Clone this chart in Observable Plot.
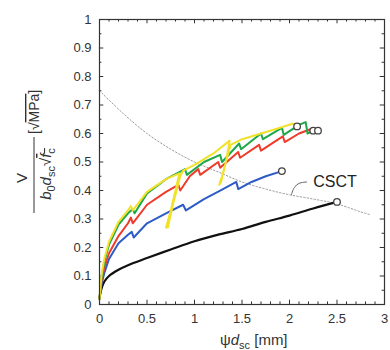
<!DOCTYPE html>
<html><head><meta charset="utf-8">
<script src="https://cdn.jsdelivr.net/npm/d3@7"></script>
<script src="https://cdn.jsdelivr.net/npm/@observablehq/plot@0.6"></script>
<style>body{margin:0;background:#fff} #chart svg{display:block}</style>
</head><body><div id="chart"></div>
<script>
// ---- tick values / labels ----
const yTicks = [0,0.1,0.2,0.3,0.4,0.5,0.6,0.7,0.8,0.9,1];
const yTickLabels = ["0","0.1","0.2","0.3","0.4","0.5","0.6","0.7","0.8","0.9","1"];
const xTicks = [0,0.5,1,1.5,2,2.5,3];
const xTickLabels = ["0","0.5","1","1.5","2","2.5","3"];
const yMinor = d3.range(0, 1.0001, 0.05);
const xMinor = d3.range(0, 3.0001, 0.1);

// ---- series (x = ψ·d_sc [mm], y = V/(b0 dsc √fc)) ----
const blackX = [0,0.02,0.05,0.1,0.2,0.3,0.5,0.75,1.0,1.25,1.5,1.75,2.0,2.25,2.5];
const blackY = [0.025,0.055,0.08,0.1,0.122,0.138,0.163,0.193,0.222,0.245,0.265,0.29,0.312,0.337,0.36];

const blueX = [0,0.02,0.05,0.1,0.2,0.3,0.34,0.36,0.5,0.7,0.88,0.91,1.1,1.3,1.44,1.46,1.6,1.75,1.92];
const blueY = [0.02,0.07,0.11,0.16,0.215,0.245,0.255,0.235,0.285,0.32,0.35,0.33,0.37,0.405,0.43,0.405,0.43,0.45,0.468];

const redX = [0,0.02,0.05,0.1,0.2,0.3,0.33,0.35,0.5,0.7,0.83,0.85,0.95,1.04,1.06,1.25,1.27,1.46,1.48,1.68,1.7,1.93,1.95,2.1,2.22,2.3];
const redY = [0.02,0.08,0.13,0.18,0.24,0.285,0.305,0.285,0.35,0.395,0.42,0.40,0.45,0.475,0.455,0.50,0.48,0.535,0.515,0.56,0.54,0.59,0.57,0.6,0.615,0.61];

const greenX = [0,0.02,0.05,0.1,0.2,0.3,0.35,0.37,0.5,0.7,0.9,0.92,1.1,1.27,1.29,1.47,1.49,1.7,1.72,1.92,1.94,2.1,2.17,2.19,2.25];
const greenY = [0.02,0.09,0.15,0.21,0.28,0.32,0.335,0.32,0.39,0.44,0.475,0.455,0.5,0.525,0.50,0.565,0.545,0.6,0.58,0.62,0.595,0.63,0.64,0.60,0.61];

const yellowX = [0,0.02,0.05,0.1,0.2,0.3,0.33,0.35,0.5,0.7,0.84,0.8,0.75,0.7,0.72,0.78,0.85,0.88,1.0,1.2,1.37,1.33,1.29,1.26,1.28,1.33,1.38,1.5,1.7,1.9,2.04,2.08];
const yellowY = [0.02,0.1,0.16,0.22,0.29,0.33,0.345,0.33,0.395,0.44,0.46,0.4,0.33,0.27,0.27,0.36,0.45,0.47,0.49,0.53,0.575,0.5,0.45,0.42,0.43,0.5,0.56,0.58,0.6,0.62,0.635,0.625];

const csctX = [0,0.25,0.5,0.75,1.0,1.25,1.5,1.75,2.0,2.25,2.5,2.75,2.85];
const csctY = [0.75,0.67,0.6,0.545,0.5,0.465,0.43,0.405,0.385,0.37,0.353,0.325,0.315];

const endX = [2.5,1.92,2.08,2.25,2.3];
const endY = [0.36,0.468,0.625,0.61,0.61];

const leaderX = [2.02,2.05,2.1,2.18];
const leaderY = [0.385,0.41,0.425,0.43];
const csctLabel = {x: 2.25, y: 0.43, text: "CSCT"};

const pts = (xs, ys) => xs.map((x, i) => ({x, y: ys[i]}));

const plot = Plot.plot({
  width: 390, height: 350,
  marginLeft: 99, marginRight: 6, marginTop: 19, marginBottom: 46,
  x: {domain: [0, 3]},
  y: {domain: [0, 1]},
  style: {fontFamily: "Liberation Sans, Arial, sans-serif", fontSize: "13px", color: "#333", background: "#fff"},
  marks: [
    Plot.axisY(yTicks, {tickSize: 0, tickPadding: 8, label: null, tickFormat: d => yTickLabels[yTicks.indexOf(d)], fill: "#333", fontSize: 13}),
    Plot.axisX(xTicks, {tickSize: 0, tickPadding: 9, label: null, tickFormat: d => xTickLabels[xTicks.indexOf(d)], fill: "#333", fontSize: 13}),
    // inward minor/major ticks on all sides
    Plot.ruleY(yMinor, {x1: 0, x2: (d, i) => i % 2 === 0 ? 0.045 : 0.025, stroke: "#333"}),
    Plot.ruleY(yMinor, {x1: 3, x2: (d, i) => i % 2 === 0 ? 2.955 : 2.975, stroke: "#333"}),
    Plot.ruleX(xMinor, {y1: 0, y2: (d, i) => i % 5 === 0 ? 0.015 : 0.009, stroke: "#333"}),
    Plot.ruleX(xMinor, {y1: 1, y2: (d, i) => i % 5 === 0 ? 0.985 : 0.991, stroke: "#333"}),
    Plot.line(pts(csctX, csctY), {x: "x", y: "y", stroke: "#9a9a9a", strokeWidth: 1, strokeDasharray: "1.5,2", curve: "catmull-rom"}),
    Plot.line(pts(leaderX, leaderY), {x: "x", y: "y", stroke: "#666", strokeWidth: 1, curve: "catmull-rom"}),
    Plot.line(pts(blackX, blackY), {x: "x", y: "y", stroke: "#111", strokeWidth: 2.2, curve: "catmull-rom"}),
    Plot.line(pts(blueX, blueY), {x: "x", y: "y", stroke: "#2d5cc6", strokeWidth: 2}),
    Plot.line(pts(redX, redY), {x: "x", y: "y", stroke: "#ef3b2c", strokeWidth: 2}),
    Plot.line(pts(greenX, greenY), {x: "x", y: "y", stroke: "#1ea84a", strokeWidth: 2}),
    Plot.line(pts(yellowX, yellowY), {x: "x", y: "y", stroke: "#f2e12a", strokeWidth: 2}),
    Plot.dot(pts(endX, endY), {x: "x", y: "y", r: 3.3, stroke: "#444", strokeWidth: 1.3, fill: "#fff"}),
    Plot.text([csctLabel], {x: "x", y: "y", text: "text", textAnchor: "start", fontSize: 16, fill: "#222"}),
    Plot.frame({stroke: "#333", strokeWidth: 1.2})
  ]
});
document.getElementById("chart").appendChild(plot);

// ---- axis titles with sub/superscripts ----
const svg = d3.select(plot);
const ns = "Liberation Sans, Arial, sans-serif";
const xt = svg.append("text").attr("x", 220).attr("y", 345).attr("text-anchor", "start").attr("font-family", ns).attr("font-size", 15).attr("fill", "#333");
xt.append("tspan").text("ψ");
xt.append("tspan").attr("font-style", "italic").text("d");
xt.append("tspan").attr("font-size", 11).attr("dy", 4).text("sc");
xt.append("tspan").attr("dy", -4).text(" [mm]");

const g = svg.append("g").attr("transform", "translate(0,175) rotate(-90)").attr("font-family", ns).attr("fill", "#333");
g.append("text").attr("x", -3).attr("y", 27).attr("text-anchor", "middle").attr("font-size", 15).text("V");
g.append("line").attr("x1", -38).attr("x2", 38).attr("y1", 34).attr("y2", 34).attr("stroke", "#333").attr("stroke-width", 1);
const den = g.append("text").attr("x", 1).attr("y", 51).attr("text-anchor", "middle").attr("font-size", 15);
den.append("tspan").attr("font-style", "italic").text("b");
den.append("tspan").attr("font-size", 11).attr("dy", 4).text("0");
den.append("tspan").attr("font-style", "italic").attr("dy", -4).text("d");
den.append("tspan").attr("font-size", 11).attr("dy", 4).text("sc");
den.append("tspan").attr("dy", -4).text("√");
den.append("tspan").attr("font-style", "italic").style("text-decoration", "overline").text("f");
den.append("tspan").attr("font-size", 11).attr("dy", 4).style("text-decoration", "overline").text("c");
const unit = g.append("text").attr("x", 41).attr("y", 39).attr("text-anchor", "start").attr("font-size", 14);
unit.append("tspan").text("[√");
unit.append("tspan").style("text-decoration", "overline").text("MPa");
unit.append("tspan").text("]");
</script>
</body></html>
